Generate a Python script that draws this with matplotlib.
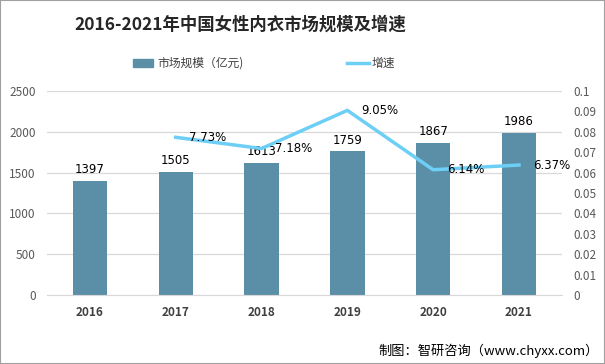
import matplotlib.pyplot as plt
import numpy as np

plt.rcParams['font.family'] = ['Noto Sans CJK SC', 'DejaVu Sans']

years = ['2016', '2017', '2018', '2019', '2020', '2021']
market_size = [1397, 1505, 1613, 1759, 1867, 1986]
growth_years = ['2017', '2018', '2019', '2020', '2021']
growth_rate = [0.0773, 0.0718, 0.0905, 0.0614, 0.0637]
growth_labels = ['7.73%', '7.18%', '9.05%', '6.14%', '6.37%']

bar_color = '#5B8FA8'
line_color = '#6DCFF6'
grid_color = '#D9D9D9'
tick_color = '#595959'

fig = plt.figure(figsize=(6.05, 3.64), dpi=100)
ax = fig.add_axes([0.0777, 0.1896, 0.851, 0.5604])
x = np.arange(len(years))

ax.bar(x, market_size, width=0.4, color=bar_color, zorder=2)
for xi, v in zip(x, market_size):
    ax.text(xi, v + 60, str(v), ha='center', va='bottom', fontsize=8.5,
            color='black', family=['DejaVu Sans'], zorder=5)

ax.set_ylim(0, 2500)
ax.set_yticks(np.arange(0, 2501, 500))
ax.set_xlim(-0.5, len(years) - 0.5)
ax.set_xticks(x)
ax.set_xticklabels(years, fontweight='bold', fontsize=9, color='#404040')
ax.grid(axis='y', color=grid_color, linewidth=0.9, zorder=0)
for s in ax.spines.values():
    s.set_visible(False)
ax.spines['bottom'].set_visible(True)
ax.spines['bottom'].set_color(grid_color)
ax.tick_params(axis='both', length=0, labelsize=8.5, labelcolor=tick_color)
ax.tick_params(axis='x', pad=8, labelcolor='#404040')
ax.tick_params(axis='y', pad=8)

ax2 = ax.twinx()
gx = [years.index(y) for y in growth_years]
ax2.plot(gx, growth_rate, color=line_color, linewidth=2.5, zorder=3)
for xi, v, lab in zip(gx, growth_rate, growth_labels):
    ax2.text(xi + 0.16, v, lab, ha='left', va='center', fontsize=8.5,
             color='black', family=['DejaVu Sans'], zorder=5)
ax2.set_ylim(0, 0.1)
ax2.set_yticks(np.round(np.arange(0, 0.1001, 0.01), 2))
ax2.set_yticklabels(['0'] + ['%g' % t for t in np.round(np.arange(0.01, 0.1001, 0.01), 2)])
for s in ax2.spines.values():
    s.set_visible(False)
ax2.tick_params(axis='y', length=0, labelsize=8.5, labelcolor=tick_color, pad=8)

fig.text(240 / 605, 1 - 25 / 364, '2016-2021年中国女性内衣市场规模及增速', ha='center', va='center',
         fontsize=12.5, fontweight='bold', color='#262626')

# legend
fig.patches.append(plt.Rectangle((133 / 605, 1 - 67 / 364), 20 / 605, 8 / 364,
                                 transform=fig.transFigure, color=bar_color))
fig.text(157 / 605, 1 - 63 / 364, '市场规模（亿元)', ha='left', va='center', fontsize=8.5, color='#404040')
fig.lines.append(plt.Line2D([347 / 605, 369 / 605], [1 - 63 / 364, 1 - 63 / 364],
                            transform=fig.transFigure, color=line_color, linewidth=2.5))
fig.text(372 / 605, 1 - 63 / 364, '增速', ha='left', va='center', fontsize=8.5, color='#404040')

fig.text(0.99, 1 - 351 / 364, '制图：智研咨询（www.chyxx.com）', ha='right', va='center',
         fontsize=9.5, color='black')

fig.patches.append(plt.Rectangle((0, 0), 1, 1, transform=fig.transFigure, fill=False,
                                 edgecolor='#A0A0A0', linewidth=1.5))

fig.savefig('out.png', dpi=100)
